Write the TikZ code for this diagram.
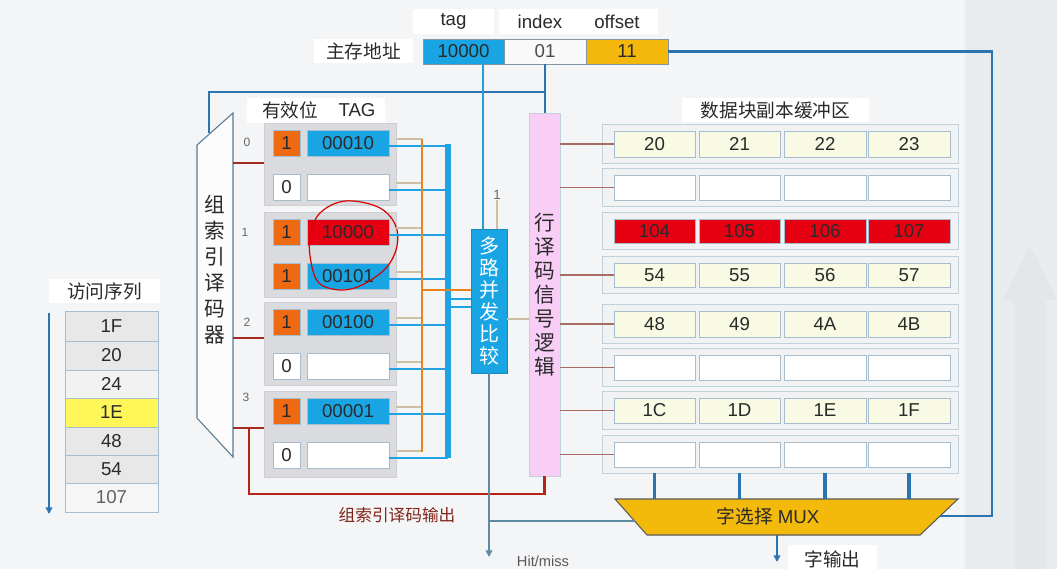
\documentclass[tikz,border=0pt]{standalone}
\usepackage{fontspec}
\setmainfont{Liberation Sans}
\newfontfamily\cjk{Noto Sans CJK SC}
\usetikzlibrary{arrows.meta,calc}
\definecolor{bgc}{HTML}{F4F5F7}
\definecolor{bandc}{HTML}{E9ECEF}
\definecolor{cyanb}{HTML}{19A5E4}
\definecolor{orgv}{HTML}{EE6A12}
\definecolor{offy}{HTML}{F4B80C}
\definecolor{redc}{HTML}{E60012}
\definecolor{pinkc}{HTML}{F8CEF6}
\definecolor{setc}{HTML}{DADBDE}
\definecolor{rowc}{HTML}{F0F2F4}
\definecolor{lyc}{HTML}{F8FAE4}
\definecolor{muxc}{HTML}{F3BA0C}
\definecolor{addrc}{HTML}{2B74B2}
\definecolor{tagc}{HTML}{2A9BD8}
\definecolor{tanc}{HTML}{CDBFA4}
\definecolor{orw}{HTML}{E8831E}
\definecolor{busc}{HTML}{1FA3E2}
\definecolor{brc}{HTML}{A42C1E}
\definecolor{rlc}{HTML}{A86C62}
\definecolor{hitc}{HTML}{5F8AA5}
\definecolor{bordc}{HTML}{A7BDCD}
\definecolor{txtc}{HTML}{2A2A2A}
\newcommand\myfs[1]{\fontsize{#1}{#1}\selectfont}
\newcommand\rbox[7]{\node[#6, minimum width={((#4)-(#2))*0.75pt}, minimum height={((#5)-(#3))*0.75pt}] (#1) at ({((#2)+(#4))/2},{((#3)+(#5))/2}) {#7};}
\tikzset{
  base/.style={inner sep=0pt, outer sep=0pt, font=\myfs{14}, text=txtc},
  lbl/.style={base, fill=white},
  cjklbl/.style={lbl, font=\cjk\myfs{14}},
  field/.style={base, draw=bordc!80!black, line width=0.7pt},
  cell/.style={base, draw=bordc, line width=0.6pt},
  setbox/.style={base, fill=setc, draw=setc!80!black!60, line width=0.6pt},
  rowbox/.style={base, fill=rowc, draw=bordc!70, line width=0.6pt},
  small/.style={inner sep=0pt, font=\myfs{9}, text=gray!80!black},
  tanw/.style={draw=tanc, line width=1.2pt},
  busw/.style={draw=busc, line width=2pt},
  bust/.style={draw=busc, line width=4pt},
  orline/.style={draw=orw, line width=2pt},
  addrw/.style={draw=addrc, line width=1.6pt},
  tagw/.style={draw=tagc, line width=1.6pt},
  decw/.style={draw=brc, line width=1.8pt},
  rlw/.style={draw=rlc, line width=0.8pt},
  hitw/.style={draw=hitc, line width=1.3pt},
  muxw/.style={draw=addrc, line width=2.4pt},
  tip/.style={-{Triangle[length=5pt,width=5pt]}}
}
\begin{document}
\begin{tikzpicture}[x=0.75pt,y=-0.75pt]
\useasboundingbox (0,0) rectangle (1057,569);
\fill[bgc] (0,0) rectangle (1057,569);
\fill[bandc] (965,0) rectangle (1057,569);
\fill[bandc!92!gray, opacity=0.6] (1014,569) -- (1014,300) -- (1003,300) -- (1030,245) -- (1057,300) -- (1046,300) -- (1046,569) -- cycle;

% address
\rbox{tagL}{413}{9}{494}{34}{lbl}{tag}
\rbox{idxL}{499}{9}{658}{34}{lbl}{}
\node[base] (idxT) at (540,21.5) {index};
\node[base] (offT) at (617,21.5) {offset};
\rbox{addrL}{314}{39}{413}{63}{cjklbl}{主存地址}
\rbox{ftag}{423}{39}{504}{64}{field, fill=cyanb}{10000}
\rbox{fidx}{504}{39}{586}{64}{field, fill=white!95!gray, text=gray!60!black}{01}
\rbox{foff}{586}{39}{668}{64}{field, fill=offy}{11}

% tag store header
\rbox{tagH}{247}{98}{385}{123}{lbl}{}
\node[base, font=\cjk\myfs{14}] (tagH1) at (290,110) {有效位};
\node[base] (tagH2) at (357,110) {TAG};

% sets
\rbox{set0}{264}{123}{396}{205}{setbox}{}
\rbox{set1}{264}{212}{396}{297}{setbox}{}
\rbox{set2}{264}{302}{396}{385}{setbox}{}
\rbox{set3}{264}{391}{396}{477}{setbox}{}
\newcommand\tagrow[6]{%
  \rbox{v#1}{273}{#2-13}{300}{#2+13}{cell, fill=#3}{#4}
  \rbox{t#1}{307}{#2-13}{389}{#2+13}{cell, fill=#5}{#6}}
\tagrow{00}{143}{orgv}{1}{cyanb}{00010}
\tagrow{01}{187}{white}{0}{white}{}
\tagrow{10}{232}{orgv}{1}{redc}{10000}
\tagrow{11}{276}{orgv}{1}{cyanb}{00101}
\tagrow{20}{322}{orgv}{1}{cyanb}{00100}
\tagrow{21}{366}{white}{0}{white}{}
\tagrow{30}{411}{orgv}{1}{cyanb}{00001}
\tagrow{31}{455}{white}{0}{white}{}

% red hand-drawn circle
\draw[red!85!black, line width=0.9pt] plot[smooth cycle, tension=0.6] coordinates {(345,201) (378,207) (395,224) (397,246) (386,268) (362,285) (340,290) (319,283) (311,262) (310,236) (320,213)};

% bus wiring
\coordinate (orT) at (422,139);
\coordinate (orB) at (422,452);
\coordinate (orM) at (422,290);
\coordinate (busT) at (448,144);
\coordinate (busB) at (448,458);
\foreach \r/\s in {00/0,01/0,10/1,11/1,20/2,21/2,30/3,31/3}{
  \draw[tanw] ($(t\r.center -| set\s.east)+(0,-4)$) -- ($(t\r.center -| orT)+(0,-4)$);
  \draw[busw] ($(t\r.east)+(0,3)$) -- ($(t\r.center -| busT)+(0,3)$);
}
\draw[orline] (orT) -- (orB);
\draw[bust] (busT) -- (busB);

% comparator
\rbox{cmp}{471}{229}{507}{373}{base, fill=cyanb, draw=cyanb!85!black, line width=0.5pt, text=white, align=center, font=\cjk\fontsize{15}{16.5}\selectfont}{多\\路\\并\\发\\比\\较}
\draw[orline] (orM) -- (orM -| cmp.west);
\coordinate (busM1) at (448,299);
\coordinate (busM2) at (448,307);
\draw[busw] (busM1) -- (busM1 -| cmp.west);
\draw[busw] (busM2) -- (busM2 -| cmp.west);
\node[small, font=\myfs{10}] (one) at (497,195) {1};
\draw[tanw] (one.south) -- (one.south |- cmp.north);

% row decoder
\rbox{rowdec}{529}{113}{560}{476}{base, fill=pinkc, draw=bordc!70, line width=0.6pt, align=center, font=\cjk\fontsize{15.5}{18}\selectfont}{行\\译\\码\\信\\号\\逻\\辑}
\draw[tanw] ($(cmp.east)+(0,18)$) coordinate (cp) -- (cp -| rowdec.west);

% set decoder
\draw[draw=hitc!90!black, fill=white!70!bgc, line width=0.8pt] (233,113) -- (197,145) -- (197,418) -- (233,457) -- cycle;
\node[base, align=center, font=\cjk\fontsize{15.5}{19.5}\selectfont] (dect) at (215,270) {组\\索\\引\\译\\码\\器};
\node[small] (l0) at (247,142) {0};
\node[small] (l1) at (245,232) {1};
\node[small] (l2) at (247,322) {2};
\node[small] (l3) at (246,397) {3};
\coordinate (dec0) at (233,163);
\coordinate (dec2) at (233,338);
\coordinate (dec3) at (233,428);
\coordinate (decin) at (209,133);
\draw[decw] (dec0) -- (dec0 -| set0.west);
\draw[decw] (dec2) -- (dec2 -| set2.west);
\draw[decw] (dec3) -- (dec3 -| set3.west);
\coordinate (rj) at (249,428);
\draw[decw, draw=brc!80!red] (rj) |- ($(rowdec.south)+(0,18)$) -- (rowdec.south);
\node[base, font=\cjk\myfs{12.5}, text=brc!80!black] (decout) at (397,515) {组索引译码输出};

% address lines
\draw[addrw] (fidx.south) -- (fidx.south |- rowdec.north);
\draw[addrw] ($(fidx.south)+(0,28)$) -| (decin);
\coordinate (tagdrop) at ($(ftag.south east)+(-21,0)$);
\draw[tagw] (tagdrop) -- (tagdrop |- cmp.north);

% data buffer
\rbox{dtL}{682}{98}{869}{122}{cjklbl}{数据块副本缓冲区}
\foreach \i/\tp/\bt/\fc/\a/\b/\c/\d in {
  0/124/163/lyc/20/21/22/23,
  1/168/206/white////,
  2/212/249/redc/104/105/106/107,
  3/256/293/lyc/54/55/56/57,
  4/304/343/lyc/48/49/4A/4B,
  5/348/386/white////,
  6/391/429/lyc/1C/1D/1E/1F,
  7/435/473/white////}{
  \rbox{row\i}{602}{\tp}{958}{\bt}{rowbox}{}
  \rbox{c\i1}{614}{\tp+7}{695}{\bt-6}{cell, fill=\fc}{\a}
  \rbox{c\i2}{699}{\tp+7}{780}{\bt-6}{cell, fill=\fc}{\b}
  \rbox{c\i3}{784}{\tp+7}{866}{\bt-6}{cell, fill=\fc}{\c}
  \rbox{c\i4}{868}{\tp+7}{950}{\bt-6}{cell, fill=\fc}{\d}
}
\foreach \i in {0,1,3,4,5,6,7}{
  \draw[rlw] (rowdec.east |- c\i1.center) -- (c\i1.west);
}

% MUX
\draw[fill=muxc, draw=black!65, line width=0.8pt] (615,499) -- (958,499) -- (920,535) -- (647,535) -- cycle;
\node[base, font=\myfs{14}] (mux) at (768,516) {{\cjk 字选择} MUX};
\coordinate (muxtop) at (760,499);
\coordinate (muxbot) at (777,535);
\coordinate (muxR) at (940,516);
\coordinate (muxL) at (635,521);
\foreach \j in {1,2,3,4}{
  \draw[muxw] (c7\j.center |- row7.south) -- (c7\j.center |- muxtop);
}
\coordinate (rt) at (992,300);
\draw[addrw] (foff.east) -| (rt) |- (muxR);
\coordinate (outend) at (777,562);
\draw[muxw, line width=1.8pt, tip] (muxbot) -- (outend);
\rbox{outL}{788}{545}{877}{573}{cjklbl}{字输出}

% hit/miss
\coordinate (hitend) at (489,557);
\draw[hitw, tip] (cmp.south) -- (cmp.south |- hitend);
\draw[hitw] (cmp.south |- muxL) -- (muxL);
\node[base, font=\myfs{11}, text=gray!70!black] (hitL) at (543,561) {Hit/miss};

% access sequence
\rbox{accL}{49}{279}{160}{303}{cjklbl}{访问序列}
\rbox{a1}{65}{311}{158}{341}{cell, fill=gray!18}{1F}
\rbox{a2}{65}{341}{158}{370}{cell, fill=gray!18}{20}
\rbox{a3}{65}{370}{158}{398}{cell, fill=gray!10}{24}
\rbox{a4}{65}{398}{158}{427}{cell, fill=yellow!65}{1E}
\rbox{a5}{65}{427}{158}{455}{cell, fill=gray!18}{48}
\rbox{a6}{65}{455}{158}{483}{cell, fill=gray!18}{54}
\rbox{a7}{65}{483}{158}{512}{cell, fill=gray!7, text=gray!75!black}{107}
\coordinate (sq0) at (49,313);
\coordinate (sq1) at (49,514);
\draw[draw=addrc, line width=1.3pt, tip] (sq0) -- (sq1);
\end{tikzpicture}
\end{document}
